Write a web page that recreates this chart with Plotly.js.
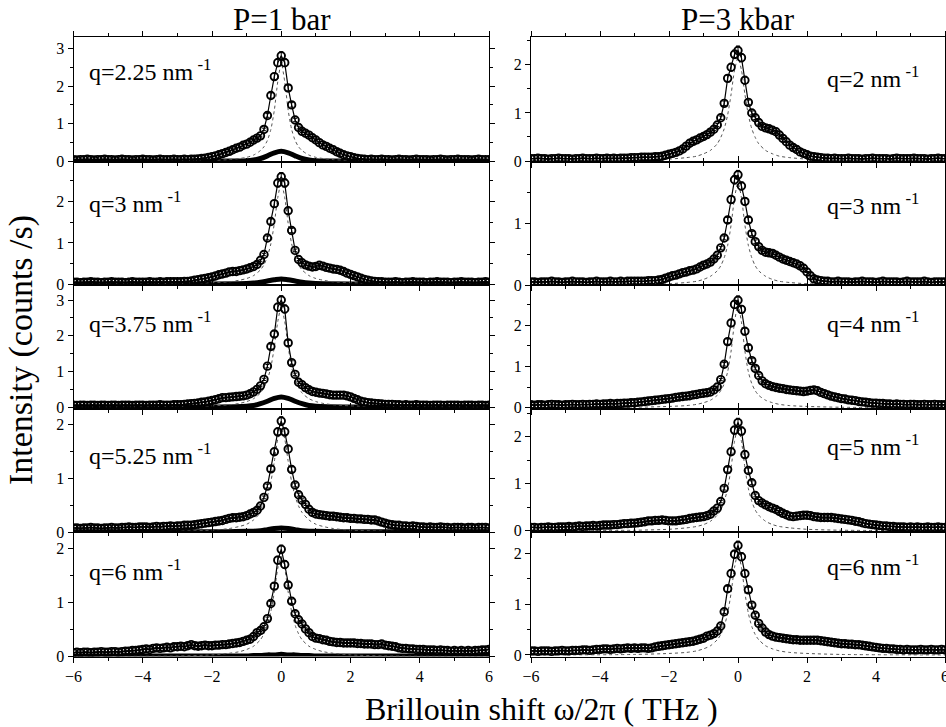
<!DOCTYPE html>
<html>
<head>
<meta charset="utf-8">
<script src="https://cdn.plot.ly/plotly-3.0.1.min.js"></script>
<style>html,body{margin:0;padding:0;background:#fff}</style>
</head>
<body>
<div id="chart" style="width:946px;height:727px"></div>
<script>
// Brillouin shift axis of the measured spectra (THz)
const shiftTHz = [-6,-5.9,-5.8,-5.7,-5.6,-5.5,-5.4,-5.3,-5.2,-5.1,
  -5,-4.9,-4.8,-4.7,-4.6,-4.5,-4.4,-4.3,-4.2,-4.1,
  -4,-3.9,-3.8,-3.7,-3.6,-3.5,-3.4,-3.3,-3.2,-3.1,
  -3,-2.9,-2.8,-2.7,-2.6,-2.5,-2.4,-2.3,-2.2,-2.1,
  -2,-1.9,-1.8,-1.7,-1.6,-1.5,-1.4,-1.3,-1.2,-1.1,
  -1,-0.9,-0.8,-0.7,-0.6,-0.5,-0.4,-0.3,-0.2,-0.1,
  0,
  0.1,0.2,0.3,0.4,0.5,0.6,0.7,0.8,0.9,1,
  1.1,1.2,1.3,1.4,1.5,1.6,1.7,1.8,1.9,2,
  2.1,2.2,2.3,2.4,2.5,2.6,2.7,2.8,2.9,3,
  3.1,3.2,3.3,3.4,3.5,3.6,3.7,3.8,3.9,4,
  4.1,4.2,4.3,4.4,4.5,4.6,4.7,4.8,4.9,5,
  5.1,5.2,5.3,5.4,5.5,5.6,5.7,5.8,5.9,6];

// P = 1 bar spectra (counts/s)
const bar1_q225 = [0.05,0.04,0.05,0.05,0.06,0.05,0.04,0.05,0.05,0.06,
  0.05,0.05,0.04,0.05,0.06,0.05,0.05,0.04,0.05,0.05,
  0.06,0.05,0.05,0.04,0.05,0.06,0.05,0.05,0.05,0.06,
  0.05,0.05,0.06,0.05,0.06,0.06,0.07,0.08,0.09,0.11,
  0.13,0.15,0.18,0.21,0.24,0.27,0.31,0.35,0.38,0.43,
  0.46,0.51,0.57,0.62,0.68,0.85,1.22,1.75,2.25,2.62,
  2.8,
  2.62,1.95,1.5,1.1,0.9,0.8,0.75,0.7,0.63,0.57,
  0.5,0.44,0.4,0.35,0.31,0.26,0.22,0.18,0.15,0.13,
  0.1,0.08,0.07,0.06,0.05,0.06,0.05,0.05,0.06,0.05,
  0.05,0.04,0.05,0.06,0.05,0.05,0.04,0.05,0.06,0.05,
  0.05,0.05,0.04,0.05,0.05,0.06,0.05,0.04,0.05,0.05,
  0.06,0.05,0.05,0.05,0.04,0.05,0.06,0.05,0.05,0.05];
const bar1_q3 = [0.05,0.05,0.04,0.05,0.05,0.06,0.05,0.05,0.04,0.05,
  0.05,0.06,0.05,0.05,0.05,0.04,0.05,0.06,0.05,0.05,
  0.05,0.05,0.06,0.05,0.05,0.06,0.05,0.06,0.06,0.06,
  0.06,0.06,0.07,0.07,0.08,0.1,0.11,0.13,0.14,0.16,
  0.18,0.2,0.23,0.25,0.27,0.3,0.31,0.31,0.33,0.35,
  0.37,0.4,0.43,0.48,0.58,0.72,1.12,1.52,1.95,2.45,
  2.6,
  2.45,1.78,1.3,0.82,0.6,0.52,0.47,0.44,0.42,0.43,
  0.46,0.44,0.41,0.39,0.37,0.36,0.34,0.31,0.27,0.24,
  0.21,0.18,0.15,0.12,0.1,0.08,0.07,0.06,0.06,0.05,
  0.05,0.05,0.06,0.05,0.04,0.05,0.05,0.06,0.05,0.05,
  0.05,0.04,0.05,0.05,0.06,0.05,0.05,0.05,0.04,0.05,
  0.05,0.06,0.05,0.05,0.05,0.04,0.05,0.05,0.06,0.05];
const bar1_q375 = [0.06,0.05,0.06,0.06,0.05,0.06,0.06,0.05,0.06,0.06,
  0.05,0.06,0.06,0.05,0.06,0.06,0.06,0.05,0.06,0.06,
  0.06,0.05,0.06,0.06,0.06,0.07,0.06,0.06,0.06,0.07,
  0.07,0.07,0.08,0.09,0.1,0.11,0.12,0.14,0.15,0.17,
  0.19,0.21,0.24,0.27,0.27,0.28,0.29,0.3,0.31,0.32,
  0.34,0.38,0.43,0.5,0.6,0.78,1.15,1.7,2.05,2.8,
  3.0,
  2.75,1.8,1.25,0.92,0.7,0.63,0.55,0.49,0.44,0.42,
  0.4,0.39,0.37,0.35,0.34,0.34,0.34,0.34,0.32,0.29,
  0.25,0.21,0.17,0.15,0.13,0.12,0.11,0.1,0.09,0.08,
  0.08,0.08,0.07,0.07,0.06,0.07,0.06,0.06,0.07,0.06,
  0.06,0.06,0.05,0.06,0.06,0.06,0.05,0.06,0.06,0.06,
  0.06,0.05,0.06,0.06,0.06,0.05,0.06,0.06,0.05,0.06];
const bar1_q525 = [0.08,0.08,0.07,0.08,0.08,0.09,0.08,0.08,0.07,0.08,
  0.08,0.09,0.08,0.08,0.09,0.09,0.1,0.09,0.09,0.1,
  0.1,0.1,0.09,0.1,0.11,0.1,0.11,0.11,0.12,0.11,
  0.12,0.12,0.13,0.13,0.13,0.14,0.15,0.16,0.17,0.18,
  0.19,0.2,0.21,0.22,0.24,0.26,0.27,0.27,0.28,0.29,
  0.31,0.34,0.37,0.41,0.49,0.65,0.86,1.18,1.5,1.87,
  2.07,
  1.87,1.55,1.17,0.88,0.7,0.6,0.52,0.43,0.37,0.34,
  0.33,0.32,0.31,0.3,0.3,0.29,0.28,0.27,0.27,0.26,
  0.26,0.25,0.25,0.24,0.24,0.23,0.23,0.21,0.19,0.17,
  0.15,0.14,0.13,0.13,0.12,0.12,0.11,0.12,0.11,0.1,
  0.1,0.09,0.1,0.09,0.09,0.1,0.09,0.09,0.08,0.09,
  0.09,0.09,0.08,0.09,0.09,0.08,0.09,0.09,0.09,0.08];
const bar1_q6 = [0.07,0.08,0.07,0.08,0.08,0.07,0.08,0.08,0.09,0.08,
  0.08,0.09,0.09,0.08,0.09,0.1,0.1,0.11,0.11,0.12,
  0.13,0.14,0.13,0.15,0.16,0.15,0.16,0.17,0.16,0.18,
  0.18,0.19,0.18,0.2,0.22,0.2,0.19,0.2,0.21,0.2,
  0.2,0.21,0.21,0.22,0.22,0.23,0.24,0.25,0.26,0.28,
  0.3,0.32,0.37,0.44,0.48,0.55,0.7,0.98,1.3,1.78,
  1.98,
  1.7,1.32,1.02,0.79,0.68,0.6,0.51,0.44,0.37,0.34,
  0.33,0.31,0.3,0.28,0.27,0.26,0.26,0.25,0.25,0.25,
  0.25,0.24,0.24,0.23,0.23,0.23,0.22,0.22,0.23,0.21,
  0.2,0.19,0.18,0.16,0.15,0.15,0.14,0.14,0.13,0.13,
  0.13,0.12,0.12,0.12,0.11,0.12,0.11,0.11,0.1,0.11,
  0.1,0.11,0.1,0.11,0.1,0.11,0.11,0.12,0.12,0.13];

// P = 3 kbar spectra (counts/s)
const kbar3_q2 = [0.05,0.05,0.06,0.05,0.05,0.04,0.05,0.05,0.06,0.05,
  0.05,0.05,0.04,0.05,0.05,0.06,0.05,0.05,0.05,0.06,
  0.05,0.05,0.06,0.05,0.06,0.05,0.06,0.06,0.06,0.07,
  0.07,0.07,0.08,0.08,0.08,0.08,0.09,0.09,0.1,0.12,
  0.14,0.16,0.18,0.21,0.25,0.31,0.37,0.41,0.44,0.48,
  0.51,0.55,0.6,0.66,0.75,0.9,1.2,1.72,1.95,2.22,
  2.3,
  2.15,1.68,1.22,1.0,0.9,0.8,0.72,0.69,0.67,0.64,
  0.61,0.54,0.47,0.4,0.33,0.28,0.24,0.19,0.16,0.13,
  0.1,0.09,0.08,0.07,0.06,0.06,0.05,0.06,0.05,0.05,
  0.05,0.06,0.05,0.05,0.05,0.04,0.05,0.05,0.06,0.05,
  0.05,0.05,0.05,0.04,0.05,0.06,0.05,0.05,0.05,0.05,
  0.06,0.05,0.05,0.05,0.04,0.05,0.05,0.06,0.05,0.05];
const kbar3_q3 = [0.05,0.05,0.04,0.05,0.05,0.05,0.06,0.05,0.05,0.04,
  0.05,0.05,0.06,0.05,0.05,0.05,0.04,0.05,0.05,0.06,
  0.05,0.05,0.05,0.06,0.05,0.05,0.06,0.05,0.06,0.06,
  0.06,0.06,0.06,0.06,0.07,0.07,0.07,0.08,0.09,0.11,
  0.13,0.15,0.16,0.18,0.2,0.21,0.23,0.24,0.26,0.29,
  0.32,0.34,0.37,0.42,0.48,0.6,0.76,1.05,1.38,1.7,
  1.78,
  1.6,1.35,1.05,0.83,0.7,0.62,0.56,0.53,0.52,0.51,
  0.48,0.45,0.42,0.4,0.38,0.36,0.34,0.31,0.27,0.21,
  0.15,0.1,0.08,0.07,0.06,0.06,0.05,0.05,0.06,0.05,
  0.05,0.05,0.04,0.05,0.05,0.06,0.05,0.05,0.05,0.04,
  0.05,0.06,0.05,0.05,0.05,0.05,0.04,0.05,0.06,0.05,
  0.05,0.05,0.05,0.06,0.05,0.04,0.05,0.05,0.05,0.05];
const kbar3_q4 = [0.07,0.06,0.07,0.07,0.06,0.07,0.08,0.07,0.07,0.06,
  0.07,0.07,0.08,0.07,0.07,0.08,0.07,0.08,0.08,0.09,
  0.08,0.09,0.09,0.1,0.09,0.1,0.1,0.11,0.11,0.12,
  0.12,0.13,0.14,0.15,0.16,0.17,0.18,0.19,0.2,0.21,
  0.22,0.23,0.25,0.26,0.27,0.28,0.29,0.31,0.32,0.34,
  0.35,0.36,0.38,0.43,0.5,0.68,1.05,1.6,2.05,2.5,
  2.6,
  2.38,1.85,1.45,1.14,0.95,0.78,0.65,0.58,0.54,0.51,
  0.49,0.47,0.46,0.44,0.43,0.42,0.41,0.4,0.39,0.4,
  0.42,0.43,0.41,0.37,0.34,0.31,0.28,0.26,0.24,0.22,
  0.21,0.19,0.18,0.17,0.15,0.14,0.13,0.12,0.11,0.11,
  0.1,0.1,0.09,0.09,0.08,0.09,0.08,0.08,0.07,0.08,
  0.08,0.07,0.07,0.08,0.07,0.07,0.08,0.07,0.07,0.07];
const kbar3_q5 = [0.07,0.07,0.06,0.07,0.07,0.08,0.07,0.07,0.08,0.08,
  0.08,0.09,0.08,0.09,0.1,0.09,0.1,0.1,0.11,0.1,
  0.11,0.12,0.12,0.12,0.13,0.13,0.14,0.15,0.15,0.16,
  0.16,0.17,0.18,0.19,0.21,0.21,0.22,0.22,0.23,0.22,
  0.21,0.21,0.21,0.22,0.23,0.24,0.26,0.27,0.28,0.29,
  0.3,0.32,0.35,0.42,0.48,0.62,0.9,1.3,1.68,2.14,
  2.3,
  2.12,1.62,1.28,1.02,0.75,0.64,0.59,0.55,0.51,0.48,
  0.45,0.41,0.37,0.34,0.31,0.3,0.31,0.32,0.33,0.33,
  0.32,0.3,0.29,0.28,0.28,0.28,0.28,0.27,0.26,0.25,
  0.24,0.23,0.22,0.2,0.19,0.17,0.15,0.14,0.13,0.12,
  0.11,0.1,0.1,0.09,0.09,0.08,0.08,0.08,0.07,0.08,
  0.07,0.08,0.07,0.07,0.08,0.07,0.07,0.08,0.07,0.07];
const kbar3_q6 = [0.08,0.08,0.07,0.08,0.08,0.08,0.07,0.08,0.08,0.09,
  0.08,0.08,0.09,0.09,0.09,0.1,0.1,0.09,0.1,0.11,
  0.11,0.12,0.12,0.11,0.12,0.13,0.12,0.13,0.14,0.13,
  0.14,0.13,0.14,0.14,0.13,0.14,0.16,0.17,0.18,0.19,
  0.2,0.21,0.22,0.23,0.24,0.25,0.26,0.27,0.29,0.31,
  0.33,0.37,0.39,0.42,0.47,0.57,0.85,1.3,1.6,1.98,
  2.15,
  1.93,1.6,1.28,0.98,0.78,0.62,0.53,0.45,0.4,0.37,
  0.35,0.34,0.33,0.32,0.31,0.3,0.3,0.29,0.29,0.29,
  0.29,0.29,0.29,0.28,0.27,0.26,0.25,0.24,0.23,0.22,
  0.22,0.21,0.21,0.2,0.2,0.19,0.18,0.17,0.16,0.15,
  0.14,0.13,0.13,0.12,0.12,0.11,0.11,0.1,0.11,0.1,
  0.1,0.1,0.11,0.1,0.1,0.11,0.1,0.1,0.11,0.1];

// Central (quasi-elastic) line, dotted
const centralX = [-6,-3,-2,-1.5,-1.2,-1,-0.8,-0.6,-0.5,-0.4,-0.3,-0.2,-0.1,0,0.1,0.2,0.3,0.4,0.5,0.6,0.8,1,1.2,1.5,2,3,6];
const central_bar1_q225 = [0,0.01,0.03,0.05,0.08,0.11,0.17,0.29,0.39,0.56,0.85,1.36,2.12,2.6,2.12,1.36,0.85,0.56,0.39,0.29,0.17,0.11,0.08,0.05,0.03,0.01,0];
const central_bar1_q3 = [0,0.02,0.04,0.06,0.1,0.14,0.21,0.35,0.47,0.67,0.98,1.47,2.1,2.45,2.1,1.47,0.98,0.67,0.47,0.35,0.21,0.14,0.1,0.06,0.04,0.02,0];
const central_bar1_q375 = [0,0.02,0.04,0.07,0.11,0.16,0.24,0.4,0.55,0.77,1.12,1.69,2.4,2.8,2.4,1.69,1.12,0.77,0.55,0.4,0.24,0.16,0.11,0.07,0.04,0.02,0];
const central_bar1_q525 = [0,0.02,0.04,0.07,0.11,0.15,0.23,0.37,0.49,0.67,0.94,1.32,1.74,1.95,1.74,1.32,0.94,0.67,0.49,0.37,0.23,0.15,0.11,0.07,0.04,0.02,0];
const central_bar1_q6 = [0,0.01,0.03,0.06,0.09,0.13,0.19,0.31,0.42,0.58,0.83,1.19,1.63,1.85,1.63,1.19,0.83,0.58,0.42,0.31,0.19,0.13,0.09,0.06,0.03,0.01,0];
const central_kbar3_q2 = [0,0.02,0.04,0.07,0.1,0.15,0.22,0.36,0.49,0.67,0.96,1.39,1.89,2.15,1.89,1.39,0.96,0.67,0.49,0.36,0.22,0.15,0.1,0.07,0.04,0.02,0];
const central_kbar3_q3 = [0,0.01,0.02,0.04,0.06,0.09,0.14,0.23,0.31,0.44,0.64,0.97,1.41,1.65,1.41,0.97,0.64,0.44,0.31,0.23,0.14,0.09,0.06,0.04,0.02,0.01,0];
const central_kbar3_q4 = [0,0.01,0.03,0.05,0.08,0.12,0.18,0.3,0.41,0.58,0.87,1.37,2.07,2.5,2.07,1.37,0.87,0.58,0.41,0.3,0.18,0.12,0.08,0.05,0.03,0.01,0];
const central_kbar3_q5 = [0,0.01,0.03,0.06,0.09,0.13,0.2,0.33,0.44,0.62,0.9,1.34,1.9,2.2,1.9,1.34,0.9,0.62,0.44,0.33,0.2,0.13,0.09,0.06,0.03,0.01,0];
const central_kbar3_q6 = [0,0.01,0.03,0.05,0.08,0.12,0.18,0.3,0.4,0.56,0.82,1.22,1.72,2.0,1.72,1.22,0.82,0.56,0.4,0.3,0.18,0.12,0.08,0.05,0.03,0.01,0];

// Low-level contribution near zero at P = 1 bar (heavy line)
const lowX = [-6,-2,-1,-0.8,-0.6,-0.4,-0.2,0,0.2,0.4,0.6,0.8,1,2,6];
const low_bar1_q225 = [0.01,0.01,0.02,0.04,0.08,0.15,0.23,0.27,0.23,0.15,0.08,0.04,0.02,0.01,0.01];
const low_bar1_q3 = [0.01,0.01,0.02,0.03,0.05,0.08,0.11,0.13,0.11,0.08,0.05,0.03,0.02,0.01,0.01];
const low_bar1_q375 = [0.01,0.01,0.03,0.05,0.1,0.17,0.25,0.29,0.25,0.17,0.1,0.05,0.03,0.01,0.01];
const low_bar1_q525 = [0.01,0.01,0.02,0.02,0.03,0.05,0.07,0.08,0.07,0.05,0.03,0.02,0.02,0.01,0.01];
const low_bar1_q6 = [0.01,0.01,0.01,0.02,0.02,0.03,0.03,0.04,0.03,0.03,0.02,0.02,0.01,0.01,0.01];

const qLabels1bar = ['q=2.25 nm<sup> -1</sup>','q=3 nm<sup> -1</sup>','q=3.75 nm<sup> -1</sup>','q=5.25 nm<sup> -1</sup>','q=6 nm<sup> -1</sup>'];
const qLabels3kbar = ['q=2 nm<sup> -1</sup>','q=3 nm<sup> -1</sup>','q=4 nm<sup> -1</sup>','q=5 nm<sup> -1</sup>','q=6 nm<sup> -1</sup>'];
const pressureTitles = ['P=1 bar','P=3 kbar'];

// Panel table: column 0 = 1 bar, column 1 = 3 kbar; rows top to bottom
const panels = [
  {col:0,row:0,y:bar1_q225,c:central_bar1_q225,low:low_bar1_q225,label:qLabels1bar[0],yr:[0,3.3]},
  {col:0,row:1,y:bar1_q3,c:central_bar1_q3,low:low_bar1_q3,label:qLabels1bar[1],yr:[-0.017,2.97]},
  {col:0,row:2,y:bar1_q375,c:central_bar1_q375,low:low_bar1_q375,label:qLabels1bar[2],yr:[-0.034,3.42]},
  {col:0,row:3,y:bar1_q525,c:central_bar1_q525,low:low_bar1_q525,label:qLabels1bar[3],yr:[0,2.305]},
  {col:0,row:4,y:bar1_q6,c:central_bar1_q6,low:low_bar1_q6,label:qLabels1bar[4],yr:[0,2.295]},
  {col:1,row:0,y:kbar3_q2,c:central_kbar3_q2,low:null,label:qLabels3kbar[0],yr:[-0.01,2.58]},
  {col:1,row:1,y:kbar3_q3,c:central_kbar3_q3,low:null,label:qLabels3kbar[1],yr:[0,1.995]},
  {col:1,row:2,y:kbar3_q4,c:central_kbar3_q4,low:null,label:qLabels3kbar[2],yr:[-0.02,2.97]},
  {col:1,row:3,y:kbar3_q5,c:central_kbar3_q5,low:null,label:qLabels3kbar[3],yr:[-0.034,2.6]},
  {col:1,row:4,y:kbar3_q6,c:central_kbar3_q6,low:null,label:qLabels3kbar[4],yr:[-0.03,2.41]}
];

const W = 946, H = 727;
const colPx = [[73.5,489],[531,945]];
const rowPx = [37,161.5,285,408.5,532.3,656.5];
const labelYPx = [[70,202,322,454,570],[77,204,322,445,565]];
const labelXPx = [87,825];
const serif = 'Liberation Serif';

const traces = [];
const layout = {
  width: W, height: H,
  margin: {l:0,r:0,t:0,b:0},
  paper_bgcolor: 'white', plot_bgcolor: 'white',
  showlegend: false,
  hovermode: false,
  font: {family: serif, color: 'black'},
  annotations: []
};

panels.forEach((p, i) => {
  const n = i + 1;
  const xa = n === 1 ? 'x' : 'x' + n;
  const ya = n === 1 ? 'y' : 'y' + n;
  if (p.low) {
    traces.push({x: lowX, y: p.low, xaxis: xa, yaxis: ya, mode: 'lines',
      line: {color: 'black', width: 5, shape: 'spline'}});
  }
  traces.push({x: centralX, y: p.c, xaxis: xa, yaxis: ya, mode: 'lines',
    line: {color: '#555', width: 1, dash: 'dot', shape: 'spline', smoothing: 0.7}});
  traces.push({x: shiftTHz, y: p.y, xaxis: xa, yaxis: ya, mode: 'lines+markers',
    line: {color: 'black', width: 1.2},
    marker: {symbol: 'circle-open', size: 7.5, color: 'black', line: {width: 1.9, color: 'black'}},
    error_y: {type: 'percent', value: 4, color: 'black', thickness: 1, width: 2}});

  const tickFont = {family: serif, size: 16, color: 'black'};
  layout['xaxis' + (n === 1 ? '' : n)] = {
    domain: [colPx[p.col][0] / W, colPx[p.col][1] / W],
    anchor: ya, range: [-6, 6], tick0: 0, dtick: 2,
    ticks: 'outside', ticklen: 5, tickwidth: 1, tickcolor: 'black',
    minor: {dtick: 1, ticks: 'outside', ticklen: 3, tickcolor: 'black'},
    showline: true, linecolor: 'black', linewidth: 1, mirror: 'ticks',
    showgrid: false, zeroline: false, ticklabeloverflow: 'allow',
    showticklabels: p.row === 4, tickfont: tickFont
  };
  layout['yaxis' + (n === 1 ? '' : n)] = {
    domain: [1 - rowPx[p.row + 1] / H, 1 - rowPx[p.row] / H],
    anchor: xa, range: p.yr, tick0: 0, dtick: 1,
    ticks: 'outside', ticklen: 5, tickwidth: 1, tickcolor: 'black',
    minor: {dtick: 0.5, ticks: 'outside', ticklen: 3, tickcolor: 'black'},
    showline: true, linecolor: 'black', linewidth: 1, mirror: 'ticks',
    showgrid: false, zeroline: false, ticklabeloverflow: 'allow', tickfont: tickFont
  };

  layout.annotations.push({
    text: p.label, xref: 'paper', yref: 'paper',
    x: labelXPx[p.col] / W, y: 1 - labelYPx[p.col][p.row] / H,
    xanchor: 'left', yanchor: 'middle', showarrow: false,
    font: {family: serif, size: 24, color: 'black'}
  });
});

// Column titles and shared axis titles
layout.annotations.push(
  {text: pressureTitles[0], xref: 'paper', yref: 'paper', x: 282 / W, y: 1 - 20 / H,
   xanchor: 'center', yanchor: 'middle', showarrow: false, font: {family: serif, size: 31}},
  {text: pressureTitles[1], xref: 'paper', yref: 'paper', x: 738 / W, y: 1 - 20 / H,
   xanchor: 'center', yanchor: 'middle', showarrow: false, font: {family: serif, size: 31}},
  {text: 'Intensity (counts /s)', xref: 'paper', yref: 'paper', x: 21 / W, y: 1 - 350 / H,
   xanchor: 'center', yanchor: 'middle', textangle: -90, showarrow: false, font: {family: serif, size: 34}},
  {text: 'Brillouin shift ω/2π ( THz )', xref: 'paper', yref: 'paper', x: 541 / W, y: 1 - 709 / H,
   xanchor: 'center', yanchor: 'middle', showarrow: false, font: {family: serif, size: 32}}
);

Plotly.newPlot('chart', traces, layout, {staticPlot: true, displayModeBar: false});
</script>
</body>
</html>
